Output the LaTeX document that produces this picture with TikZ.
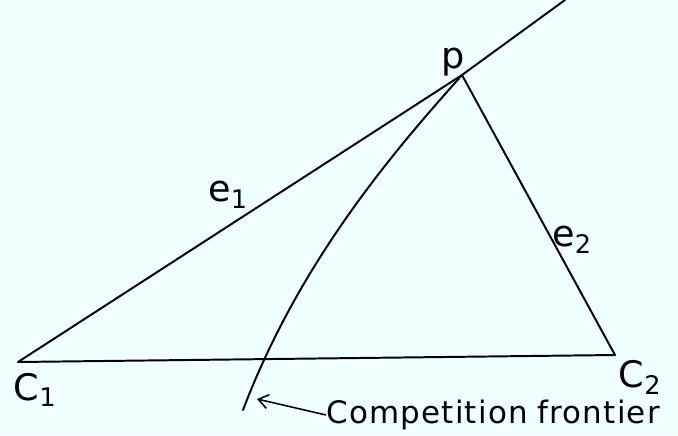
\documentclass[tikz,border=0pt]{standalone}
\usepackage{fontspec}
\setmainfont{DejaVu Sans}
\usepackage{tikz}
\usetikzlibrary{positioning, arrows.meta}
\definecolor{paper}{RGB}{240,255,255}
\newcommand\Lw{1.4pt}

\begin{document}
\begin{tikzpicture}[x=0.025cm, y=-0.025cm,
    stroke/.style={draw, line width=\Lw, line cap=round, line join=round},
    lbl/.style={inner sep=0pt, font=\fontsize{26}{30}\selectfont},
    caption lbl/.style={inner sep=0pt, font=\fontsize{22}{26}\selectfont\addfontfeatures{LetterSpace=4}}]
                \fill[paper] (0,0) rectangle (678,435);
                \useasboundingbox (0,0) rectangle (678,435);
                % corners of the triangle
                \coordinate (c1) at (18,362);
                \coordinate (c2) at (615,355);
                \coordinate (p) at (462,75);
                \coordinate (top) at (565,0);
                \coordinate (fend) at (243,410);
                \coordinate (fr) at (257,399);
                % edges
                \path[stroke] (c1) -- (p) -- (top);
                \path[stroke] (p) -- (c2);
                \path[stroke] (c1) -- (c2);
                % frontier
                \path[stroke] (p) .. controls (395,150) and (300,260) .. (fend);
                % labels
                \node[lbl] (lp) at (453,62) {p};
                \node[lbl] (le1) at (228,195) {e\textsubscript{1}};
                \node[lbl] (le2) at (572,240) {e\textsubscript{2}};
                \node[lbl] (lc1) at (35,390) {C\textsubscript{1}};
                \node[lbl] (lc2) at (640,377) {C\textsubscript{2}};
                \node[caption lbl, anchor=west] (cf) at (326,415) {Competition\hspace{0.3em}frontier};
                \draw[line width=1.1pt, -{Straight Barb[length=7pt,width=10pt]}] (cf.west) -- (fr);
            \end{tikzpicture}
\end{document}
